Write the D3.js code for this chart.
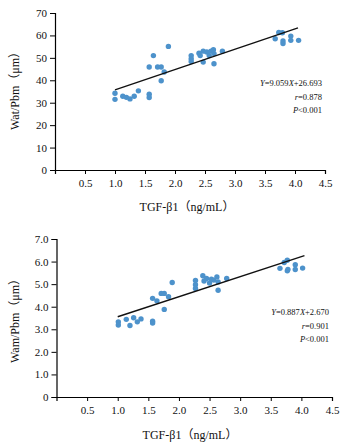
<!DOCTYPE html>
<html>
<head>
<meta charset="utf-8">
<script src="https://cdn.jsdelivr.net/npm/d3@7"></script>
<style>
  html, body { margin: 0; padding: 0; background: #fff; }
  svg { display: block; }
</style>
</head>
<body>
<div id="chart"></div>
<script>
// Wat/Pbm vs TGF-β1 (top panel)
const watPoints = [
  [1.00, 34.2], [1.00, 31.5], [1.13, 32.9], [1.19, 32.4], [1.25, 31.7], [1.32, 32.9], [1.39, 35.3],
  [1.57, 33.8], [1.57, 32.3], [1.57, 45.9], [1.64, 51.0], [1.71, 45.9], [1.77, 45.9], [1.82, 43.7],
  [1.77, 39.8], [1.89, 55.1],
  [2.27, 51.0], [2.27, 49.6], [2.27, 48.4], [2.40, 52.1], [2.42, 51.0], [2.47, 53.0], [2.47, 48.1],
  [2.53, 52.6], [2.57, 51.0], [2.60, 53.0], [2.64, 53.6], [2.65, 51.9], [2.65, 47.4], [2.79, 53.0],
  [3.67, 58.5], [3.73, 61.3], [3.79, 61.2], [3.80, 57.5], [3.80, 56.4], [3.93, 59.7], [3.93, 57.8],
  [4.06, 57.8]
];

// Wam/Pbm vs TGF-β1 (bottom panel)
const wamPoints = [
  [1.01, 3.33], [1.01, 3.19], [1.14, 3.44], [1.20, 3.17], [1.26, 3.51], [1.32, 3.33], [1.38, 3.46],
  [1.57, 3.36], [1.57, 3.28], [1.57, 4.37], [1.64, 4.26], [1.71, 4.59], [1.76, 4.59], [1.83, 4.44],
  [1.76, 3.88], [1.89, 5.07],
  [2.27, 5.16], [2.27, 4.97], [2.27, 4.81], [2.39, 5.37], [2.41, 5.14], [2.45, 5.25], [2.50, 5.05],
  [2.53, 5.22], [2.57, 5.18], [2.62, 5.32], [2.64, 5.10], [2.64, 4.73], [2.78, 5.25],
  [3.65, 5.70], [3.72, 5.96], [3.77, 6.06], [3.77, 5.59], [3.78, 5.65], [3.90, 5.86], [3.90, 5.65],
  [4.02, 5.71]
];

const xTicks = [0.5, 1.0, 1.5, 2.0, 2.5, 3.0, 3.5, 4.0, 4.5];
const watTicks = [0, 10, 20, 30, 40, 50, 60, 70];
const wamTicks = [0, 1, 2, 3, 4, 5, 6, 7];

const watFit = { slope: 9.059, intercept: 26.693, from: 1.0, to: 4.05 };
const wamFit = { slope: 0.887, intercept: 2.670, from: 1.0, to: 4.05 };

const watStats = ['9.059', '26.693', '0.878', '0.001'];
const wamStats = ['0.887', '2.670', '0.901', '0.001'];

const WIDTH = 352;
const HEIGHT = 446;
const DOT_COLOR = '#4d92cb';
const SERIF = '"Liberation Serif", "Times New Roman", serif';
const LABEL_FONT = '"Liberation Serif", "Noto Sans CJK SC", serif';

const svg = d3.select('#chart')
  .append('svg')
  .attr('width', WIDTH)
  .attr('height', HEIGHT);

function drawPanel(opts) {
  const x = d3.scaleLinear().domain([0, 4.5]).range(opts.xRange);
  const y = d3.scaleLinear().domain([0, opts.yMax]).range(opts.yRange);

  const g = svg.append('g');

  const xAxis = g.append('g')
    .attr('transform', `translate(0,${opts.yRange[0]})`)
    .call(d3.axisBottom(x).tickValues(xTicks).tickSize(4).tickPadding(5)
      .tickFormat(d3.format('.1f')));

  const yAxis = g.append('g')
    .attr('transform', `translate(${opts.xRange[0]},0)`)
    .call(d3.axisLeft(y).tickValues(opts.yTicks).tickSize(5).tickPadding(3)
      .tickFormat(opts.yFormat));

  for (const ax of [xAxis, yAxis]) {
    ax.select('.domain').attr('stroke', '#000').attr('stroke-width', 1.2);
    ax.selectAll('.tick line').attr('stroke', '#000').attr('stroke-width', 1);
    ax.selectAll('.tick text')
      .attr('fill', '#111')
      .attr('font-family', SERIF)
      .attr('font-size', '11px');
  }

  g.selectAll('circle.pt')
    .data(opts.points)
    .enter()
    .append('circle')
    .attr('class', 'pt')
    .attr('cx', (d) => x(d[0]))
    .attr('cy', (d) => y(d[1]))
    .attr('r', 2.7)
    .attr('fill', DOT_COLOR);

  const f = opts.fit;
  g.append('line')
    .attr('x1', x(f.from))
    .attr('y1', y(f.slope * f.from + f.intercept))
    .attr('x2', x(f.to))
    .attr('y2', y(f.slope * f.to + f.intercept))
    .attr('stroke', '#111')
    .attr('stroke-width', 1.4);

  // regression annotation, right aligned
  const s = opts.stats;
  const ann = g.append('g')
    .attr('font-family', SERIF)
    .attr('font-size', '8.5px')
    .attr('fill', '#111')
    .attr('text-anchor', 'end');

  const eq = ann.append('text').attr('x', opts.annX).attr('y', opts.annY);
  eq.append('tspan').attr('font-style', 'italic').text('Y');
  eq.append('tspan').text(`=${s[0]}`);
  eq.append('tspan').attr('font-style', 'italic').text('X');
  eq.append('tspan').text(`+${s[1]}`);

  const rr = ann.append('text').attr('x', opts.annX).attr('y', opts.annY + 14);
  rr.append('tspan').attr('font-style', 'italic').text('r');
  rr.append('tspan').text(`=${s[2]}`);

  const pp = ann.append('text').attr('x', opts.annX).attr('y', opts.annY + 27);
  pp.append('tspan').attr('font-style', 'italic').text('P');
  pp.append('tspan').text(`<${s[3]}`);

  g.append('text')
    .attr('transform', `translate(${opts.yLabelX},${opts.yLabelY}) rotate(-90)`)
    .attr('text-anchor', 'middle')
    .attr('dominant-baseline', 'central')
    .attr('font-family', LABEL_FONT)
    .attr('font-size', '12px')
    .attr('fill', '#111')
    .text(opts.yLabel);

  g.append('text')
    .attr('x', opts.xLabelX)
    .attr('y', opts.xLabelY)
    .attr('text-anchor', 'middle')
    .attr('dominant-baseline', 'central')
    .attr('font-family', LABEL_FONT)
    .attr('font-size', '12px')
    .attr('fill', '#111')
    .text('TGF-β1（ng/mL）');
}

drawPanel({
  points: watPoints,
  fit: watFit,
  stats: watStats,
  yMax: 70,
  yTicks: watTicks,
  yFormat: d3.format('d'),
  xRange: [55, 325],
  yRange: [170, 13],
  annX: 322,
  annY: 86,
  yLabelX: 15,
  yLabelY: 88,
  yLabel: 'Wat/Pbm（μm）',
  xLabelX: 187,
  xLabelY: 207
});

drawPanel({
  points: wamPoints,
  fit: wamFit,
  stats: wamStats,
  yMax: 7,
  yTicks: wamTicks,
  yFormat: (d) => (d === 0 ? '0' : d3.format('.1f')(d)),
  xRange: [56.5, 332],
  yRange: [397, 239],
  annX: 329,
  annY: 315,
  yLabelX: 15,
  yLabelY: 318,
  yLabel: 'Wam/Pbm（μm）',
  xLabelX: 190,
  xLabelY: 435
});
</script>
</body>
</html>
